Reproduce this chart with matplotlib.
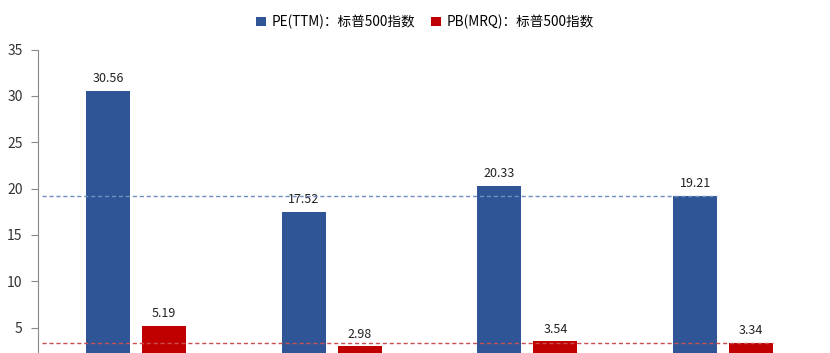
import matplotlib
matplotlib.use("Agg")
import matplotlib.pyplot as plt
import numpy as np

plt.rcParams['font.family'] = ['Noto Sans CJK SC', 'DejaVu Sans']

categories = ["A", "B", "C", "D"]
pe_values = [30.56, 17.52, 20.33, 19.21]
pb_values = [5.19, 2.98, 3.54, 3.34]
series_names = ["PE(TTM)：标普500指数", "PB(MRQ)：标普500指数"]
yticks = [5, 10, 15, 20, 25, 30, 35]

blue = "#2F5597"
red = "#C00000"

fig = plt.figure(figsize=(8.3, 3.53), dpi=100)
ax = fig.add_axes([38/830, -21/353, (821-38)/830, (374-49.6)/353])

x = np.arange(len(categories))
w = 0.224
off = 0.143
b1 = ax.bar(x - off, pe_values, w, color=blue, label=series_names[0], zorder=2)
b2 = ax.bar(x + off, pb_values, w, color=red, label=series_names[1], zorder=2)

for xi, v in zip(x - off, pe_values):
    ax.text(xi, v + 0.6, f"{v:.2f}", ha="center", va="bottom", fontsize=9, color="#222222")
for xi, v in zip(x + off, pb_values):
    ax.text(xi, v + 0.6, f"{v:.2f}", ha="center", va="bottom", fontsize=9, color="#222222")

# reference lines at latest values
ax.hlines(pe_values[-1], -0.48, x[-1] - off + w/2, colors="#6F8FBF", linestyles=(0, (3, 2)), linewidth=1.0, zorder=3)
ax.hlines(pb_values[-1], -0.48, x[-1] + off + w/2, colors="#C85050", linestyles=(0, (3, 2)), linewidth=1.0, zorder=3)

ax.set_xlim(-0.5, len(categories) - 0.5)
ax.set_ylim(0, 35)
ax.set_yticks(yticks)
ax.set_yticklabels([str(t) for t in yticks], fontsize=10, color="#333333")
ax.set_xticks([])
for s in ["top", "right", "bottom"]:
    ax.spines[s].set_visible(False)
ax.spines["left"].set_color("#888888")
ax.tick_params(axis="y", direction="out", length=5, color="#888888", pad=6)

fig.legend(handles=[b1, b2], labels=series_names, loc="center", bbox_to_anchor=(425/830, 1 - 22/353),
           ncol=2, frameon=False, fontsize=9.8, handlelength=0.7, handleheight=0.7,
           columnspacing=1.2, handletextpad=0.4)

fig.savefig("out.png", dpi=100)
